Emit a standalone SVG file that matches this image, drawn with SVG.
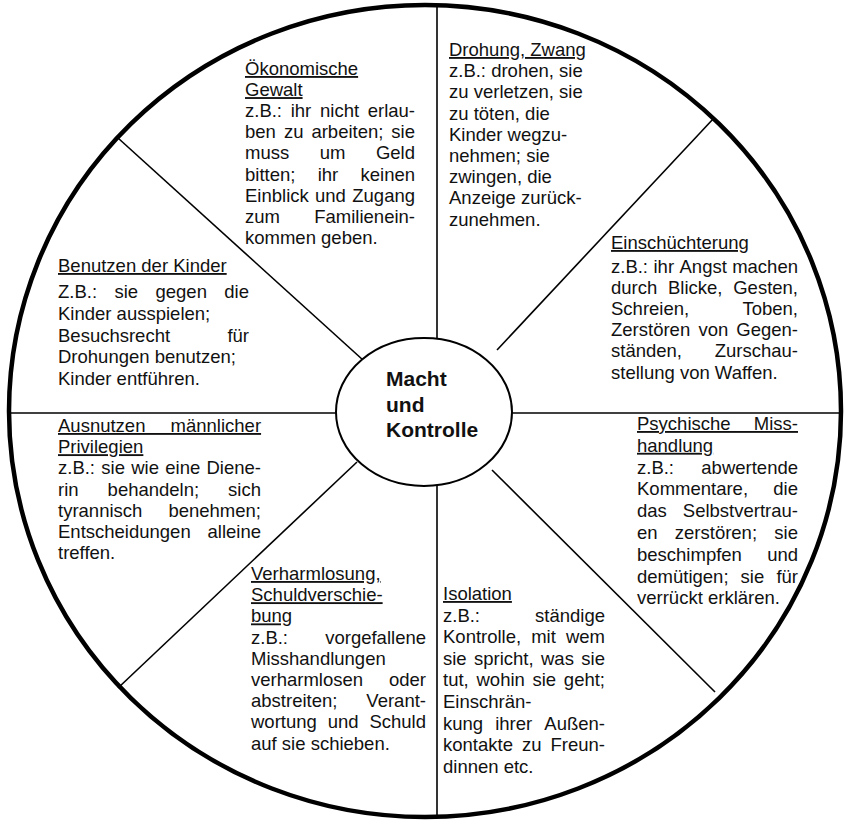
<svg xmlns="http://www.w3.org/2000/svg" width="847" height="821" viewBox="0 0 847 821">
<style>
text{font-family:"Liberation Sans",Arial,sans-serif;font-size:18.5px;fill:#111}
.u{text-decoration:underline;text-decoration-thickness:2px}
.e{text-anchor:end}
.c{font-weight:bold;font-size:21px}
.sp{stroke:#000;stroke-width:1.6;fill:none}
</style>
<rect width="847" height="821" fill="#fff"/>
<g id="wheel">
<ellipse cx="425" cy="411" rx="416" ry="406" fill="none" stroke="#000" stroke-width="4.5"/>
</g>
<g id="connectors">
<line class="sp" x1="437" y1="6" x2="437" y2="339"/>
<line class="sp" x1="437" y1="485" x2="437" y2="816"/>
<line class="sp" x1="9" y1="413" x2="336" y2="413"/>
<line class="sp" x1="512" y1="413" x2="840" y2="413"/>
<line class="sp" x1="118" y1="138" x2="363" y2="360"/>
<line class="sp" x1="497" y1="350" x2="714" y2="118"/>
<line class="sp" x1="357" y1="462" x2="118" y2="688"/>
<line class="sp" x1="492" y1="470" x2="715" y2="692"/>
</g>
<g id="center">
<ellipse cx="424" cy="412" rx="88" ry="74" fill="#fff" stroke="#000" stroke-width="2"/>
<text class="c" x="386" y="386">Macht</text>
<text class="c" x="386" y="411.5">und</text>
<text class="c" x="386" y="437">Kontrolle</text>
</g>
<g id="oekonomische">
<text class="u" x="245" y="75">Ökonomische</text>
<text class="u" x="245" y="96.1">Gewalt</text>
<text y="117.2"><tspan x="245">z.B.:</tspan><tspan x="290.7">ihr</tspan><tspan x="320">nicht</tspan><tspan x="415" class="e">erlau-</tspan></text>
<text y="138.3"><tspan x="245">ben</tspan><tspan x="283.9">zu</tspan><tspan x="311.4">arbeiten;</tspan><tspan x="415" class="e">sie</tspan></text>
<text y="159.4"><tspan x="245">muss</tspan><tspan x="319.7">um</tspan><tspan x="415" class="e">Geld</tspan></text>
<text y="180.5"><tspan x="245">bitten;</tspan><tspan x="317.7">ihr</tspan><tspan x="415" class="e">keinen</tspan></text>
<text y="201.6"><tspan x="245">Einblick</tspan><tspan x="315">und</tspan><tspan x="415" class="e">Zugang</tspan></text>
<text y="222.7"><tspan x="245">zum</tspan><tspan x="415" class="e">Familienein-</tspan></text>
<text x="245" y="243.8">kommen geben.</text>
</g>
<g id="drohung">
<text class="u" x="449" y="56">Drohung, Zwang</text>
<text x="449" y="77.2">z.B.: drohen, sie</text>
<text x="449" y="98.4">zu verletzen, sie</text>
<text x="449" y="119.6">zu töten, die</text>
<text x="449" y="140.8">Kinder wegzu-</text>
<text x="449" y="162">nehmen; sie</text>
<text x="449" y="183.2">zwingen, die</text>
<text x="449" y="204.4">Anzeige zurück-</text>
<text x="449" y="225.6">zunehmen.</text>
</g>
<g id="einschuechterung">
<text class="u" x="611" y="249">Einschüchterung</text>
<text y="272.5"><tspan x="611">z.B.:</tspan><tspan x="653.5">ihr</tspan><tspan x="679.5">Angst</tspan><tspan x="798" class="e">machen</tspan></text>
<text y="293.7"><tspan x="611">durch</tspan><tspan x="668">Blicke,</tspan><tspan x="798" class="e">Gesten,</tspan></text>
<text y="314.9"><tspan x="611">Schreien,</tspan><tspan x="798" class="e">Toben,</tspan></text>
<text y="336.1"><tspan x="611">Zerstören</tspan><tspan x="698.4">von</tspan><tspan x="798" class="e">Gegen-</tspan></text>
<text y="357.3"><tspan x="611">ständen,</tspan><tspan x="798" class="e">Zurschau-</tspan></text>
<text x="611" y="378.5">stellung von Waffen.</text>
</g>
<g id="psychische">
<text class="u" x="637" y="430" style="word-spacing:18.1px">Psychische Miss-</text>
<text class="u" x="637" y="451.8">handlung</text>
<text y="473.6"><tspan x="637">z.B.:</tspan><tspan x="798" class="e">abwertende</tspan></text>
<text y="495.4"><tspan x="637">Kommentare,</tspan><tspan x="798" class="e">die</tspan></text>
<text y="517.2"><tspan x="637">das</tspan><tspan x="798" class="e">Selbstvertrau-</tspan></text>
<text y="539"><tspan x="637">en</tspan><tspan x="674.8">zerstören;</tspan><tspan x="798" class="e">sie</tspan></text>
<text y="560.8"><tspan x="637">beschimpfen</tspan><tspan x="798" class="e">und</tspan></text>
<text y="582.6"><tspan x="637">demütigen;</tspan><tspan x="740.6">sie</tspan><tspan x="798" class="e">für</tspan></text>
<text x="637" y="604.4">verrückt erklären.</text>
</g>
<g id="isolation">
<text class="u" x="443" y="600">Isolation</text>
<text y="621.6"><tspan x="443">z.B.:</tspan><tspan x="605" class="e">ständige</tspan></text>
<text y="643.2"><tspan x="443">Kontrolle,</tspan><tspan x="531.2">mit</tspan><tspan x="605" class="e">wem</tspan></text>
<text y="664.8"><tspan x="443">sie</tspan><tspan x="474">spricht,</tspan><tspan x="541">was</tspan><tspan x="605" class="e">sie</tspan></text>
<text y="686.4"><tspan x="443">tut,</tspan><tspan x="476.5">wohin</tspan><tspan x="532.5">sie</tspan><tspan x="605" class="e">geht;</tspan></text>
<text x="443" y="708">Einschrän-</text>
<text y="729.6"><tspan x="443">kung</tspan><tspan x="495.2">ihrer</tspan><tspan x="605" class="e">Außen-</tspan></text>
<text y="751.2"><tspan x="443">kontakte</tspan><tspan x="522">zu</tspan><tspan x="605" class="e">Freun-</tspan></text>
<text x="443" y="772.8">dinnen etc.</text>
</g>
<g id="verharmlosung">
<text class="u" x="251" y="580">Verharmlosung,</text>
<text class="u" x="251" y="601.2">Schuldverschie-</text>
<text class="u" x="251" y="622.4">bung</text>
<text y="643.6"><tspan x="251">z.B.:</tspan><tspan x="426" class="e">vorgefallene</tspan></text>
<text x="251" y="664.8">Misshandlungen</text>
<text y="686"><tspan x="251">verharmlosen</tspan><tspan x="426" class="e">oder</tspan></text>
<text y="707.2"><tspan x="251">abstreiten;</tspan><tspan x="426" class="e">Verant-</tspan></text>
<text y="728.4"><tspan x="251">wortung</tspan><tspan x="327.7">und</tspan><tspan x="426" class="e">Schuld</tspan></text>
<text x="251" y="749.6">auf sie schieben.</text>
</g>
<g id="privilegien">
<text class="u" x="58" y="432" style="word-spacing:20px">Ausnutzen männlicher</text>
<text class="u" x="58" y="453.2">Privilegien</text>
<text y="474.4"><tspan x="58">z.B.:</tspan><tspan x="101.3">sie</tspan><tspan x="131.2">wie</tspan><tspan x="165.3">eine</tspan><tspan x="261" class="e">Diene-</tspan></text>
<text y="495.6"><tspan x="58">rin</tspan><tspan x="107.6">behandeln;</tspan><tspan x="261" class="e">sich</tspan></text>
<text y="516.8"><tspan x="58">tyrannisch</tspan><tspan x="261" class="e">benehmen;</tspan></text>
<text y="538"><tspan x="58">Entscheidungen</tspan><tspan x="261" class="e">alleine</tspan></text>
<text x="58" y="559.2">treffen.</text>
</g>
<g id="kinder">
<text class="u" x="58" y="272">Benutzen der Kinder</text>
<text y="298"><tspan x="58">Z.B.:</tspan><tspan x="114.5">sie</tspan><tspan x="155.5">gegen</tspan><tspan x="249" class="e">die</tspan></text>
<text x="58" y="320">Kinder ausspielen;</text>
<text y="341.5"><tspan x="58">Besuchsrecht</tspan><tspan x="249" class="e">für</tspan></text>
<text x="58" y="363">Drohungen benutzen;</text>
<text x="58" y="384.5">Kinder entführen.</text>
</g>
</svg>
